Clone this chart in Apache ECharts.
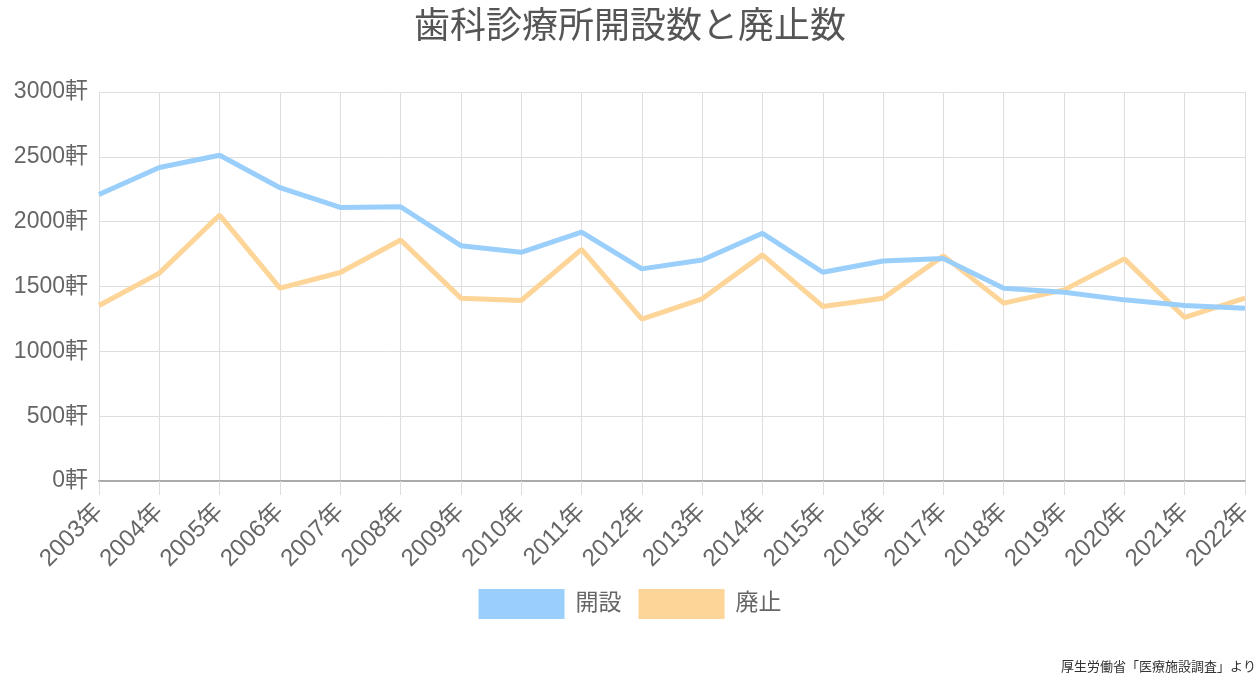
<!DOCTYPE html>
<html><head><meta charset="utf-8">
<script src="https://cdn.jsdelivr.net/npm/echarts@6/dist/echarts.min.js"></script>
<style>html,body{margin:0;padding:0;background:#fff}#c{width:1260px;height:682px}</style>
</head><body><div id="c"></div>
<script>
const years = ["2003年","2004年","2005年","2006年","2007年","2008年","2009年","2010年","2011年","2012年","2013年","2014年","2015年","2016年","2017年","2018年","2019年","2020年","2021年","2022年"];
const openings = [2210,2418,2512,2262,2110,2115,1815,1764,1920,1636,1705,1910,1610,1697,1715,1487,1456,1397,1354,1333];
const closures = [1354,1603,2051,1487,1608,1859,1410,1392,1787,1249,1405,1744,1346,1410,1736,1372,1474,1713,1261,1410];
const yTicks = [0,500,1000,1500,2000,2500,3000];
const FF = "'Liberation Sans','Noto Sans CJK JP',sans-serif";
const chart = echarts.init(document.getElementById('c'));
chart.setOption({
  animation:false,
  textStyle:{fontFamily:FF},
  title:{text:'歯科診療所開設数と廃止数',left:'center',top:5,textStyle:{fontSize:36,fontWeight:'normal',color:'#555',fontFamily:FF}},
  legend:{bottom:58,left:'center',itemWidth:86,itemHeight:30,itemGap:17,icon:'rect',
    textStyle:{fontSize:23,color:'#666',fontFamily:FF,padding:[0,0,0,6]},data:['開設','廃止']},
  grid:{left:99,right:15,top:92,bottom:201,containLabel:false},
  xAxis:{type:'category',data:years,boundaryGap:false,
    axisLine:{show:true,lineStyle:{color:'#aaa',width:2}},
    axisTick:{show:true,length:14,lineStyle:{color:'#ddd'}},
    axisLabel:{rotate:45,fontSize:24,color:'#666',margin:27,fontFamily:FF,interval:0},
    splitLine:{show:true,lineStyle:{color:'#dedede',width:1}}},
  yAxis:{type:'value',min:yTicks[0],max:yTicks[yTicks.length-1],interval:500,
    axisLine:{show:true,lineStyle:{color:'#ddd'}},
    axisTick:{show:false},
    axisLabel:{formatter:v=>v+'軒',fontSize:23,color:'#666',margin:11,fontFamily:FF},
    splitLine:{show:true,lineStyle:{color:'#dedede',width:1}}},
  series:[
    {name:'開設',type:'line',data:openings,symbol:'none',lineStyle:{width:5,color:'#9BCFFB'},itemStyle:{color:'#9BCFFB'},z:3},
    {name:'廃止',type:'line',data:closures,symbol:'none',lineStyle:{width:5,color:'#FDD598'},itemStyle:{color:'#FDD598'},z:2}
  ],
  graphic:[{type:'text',right:4,bottom:8,style:{text:'厚生労働省「医療施設調査」より',fontSize:13,fill:'#333',fontFamily:FF}}]
});
</script></body></html>
